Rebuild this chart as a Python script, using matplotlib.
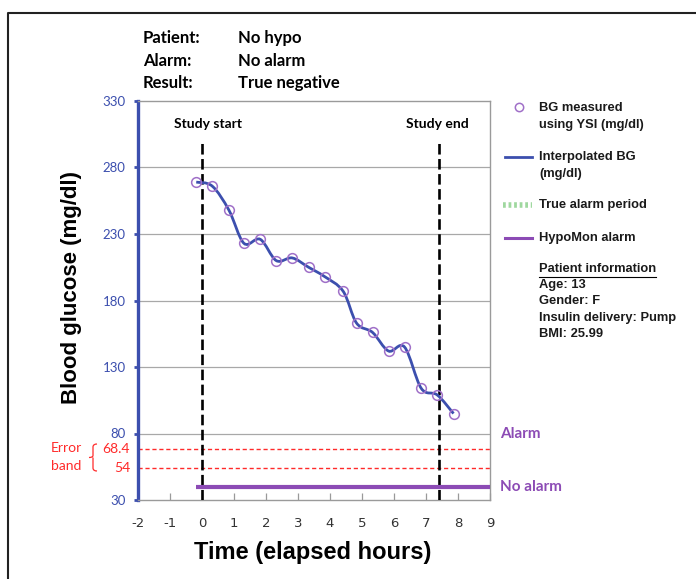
import matplotlib
matplotlib.use("Agg")
import matplotlib.pyplot as plt
from matplotlib.lines import Line2D
from matplotlib.path import Path
from matplotlib.patches import PathPatch

# measured BG (YSI) - hours from study start, mg/dl
hours = [-0.18, 0.32, 0.84, 1.31, 1.82, 2.32, 2.82, 3.33, 3.83, 4.41,
         4.83, 5.33, 5.83, 6.33, 6.85, 7.35, 7.86]
bg = [269, 266, 248, 223, 226, 210, 212, 205, 198, 187,
      163, 156, 142, 145, 114, 109, 95]

study_start = 0.0
study_end = 7.4
alarm_level = 40          # HypoMon alarm line ("No alarm")
alarm_start = -0.18
error_band = [68.4, 54]

yticks = [30, 80, 130, 180, 230, 280, 330]
xticks = list(range(-2, 10))

W, H = 696, 579
def fx(x):
    return x / W
def fy(y):
    return 1 - y / H

blue = "#3c4fae"
purple = "#8c4bb5"
red = "#ff2a2a"
fnt = "Lato"
sans = "Liberation Sans"

fig = plt.figure(figsize=(6.96, 5.79), dpi=100)
ax = fig.add_axes([fx(138), fy(500), fx(490) - fx(138), fy(101) - fy(500)])

ax.set_xlim(-2, 9)
ax.set_ylim(30, 330)

# grid + spines
for y in yticks[1:-1]:
    ax.axhline(y, color="#a8a8a8", lw=0.9, zorder=1)
for s in ["top", "right", "bottom"]:
    ax.spines[s].set_color("#9a9a9a")
    ax.spines[s].set_linewidth(1.0)
ax.spines["left"].set_color(blue)
ax.spines["left"].set_linewidth(2.4)

ax.set_yticks(yticks)
ax.set_yticklabels([str(v) for v in yticks], color=blue, fontsize=9.5, family=fnt)
ax.tick_params(axis="y", direction="out", length=3, width=2, color=blue, pad=6)
ax.set_xticks(xticks)
ax.set_xticklabels([str(v) for v in xticks], color="#333333", fontsize=9.5,
                   family=["Liberation Sans Narrow", "DejaVu Sans"])
ax.tick_params(axis="x", direction="in", length=5, width=0.9, color="#9a9a9a", pad=12)

# error band
for y in error_band:
    ax.axhline(y, color=red, lw=1.0, ls=(0, (3, 2)), zorder=2)
    ax.text(-2.25, y, str(y), color=red, fontsize=10, family=fnt,
            ha="right", va="center")

# study start / end
for x in [study_start, study_end]:
    ax.plot([x, x], [30, 300], color="black", lw=1.9, ls=(0, (4, 1.7)), zorder=3)
ax.text(0.19, 312.7, "Study start", fontsize=10, family=fnt, fontweight="bold",
        ha="center", va="center")
ax.text(7.34, 312.7, "Study end", fontsize=10, family=fnt, fontweight="bold",
        ha="center", va="center")

# HypoMon alarm line
ax.plot([alarm_start, 9], [alarm_level, alarm_level], color=purple, lw=3,
        solid_capstyle="butt", zorder=4, clip_on=False)

# smoothed curve (Catmull-Rom as cubic Bezier)
pts = list(zip(hours, bg))
verts = [pts[0]]
codes = [Path.MOVETO]
n = len(pts)
for i in range(n - 1):
    p0 = pts[max(i - 1, 0)]
    p1 = pts[i]
    p2 = pts[i + 1]
    p3 = pts[min(i + 2, n - 1)]
    c1 = (p1[0] + (p2[0] - p0[0]) / 6, p1[1] + (p2[1] - p0[1]) / 6)
    c2 = (p2[0] - (p3[0] - p1[0]) / 6, p2[1] - (p3[1] - p1[1]) / 6)
    verts += [c1, c2, p2]
    codes += [Path.CURVE4] * 3
ax.add_patch(PathPatch(Path(verts, codes), facecolor="none", edgecolor=blue,
                       lw=2, zorder=5))
ax.plot(hours, bg, ls="none", marker="o", ms=7, mfc="none", mec="#a070c8",
        mew=1.1, zorder=6)

# right side labels
ax.text(9.3, 80, "Alarm", color=purple, fontsize=11, family=fnt,
        fontweight="bold", va="center", clip_on=False)
ax.text(9.3, alarm_level, "No alarm", color=purple, fontsize=11, family=fnt,
        fontweight="bold", va="center", clip_on=False)

# axis titles
fig.text(fx(313), fy(552), "Time (elapsed hours)", fontsize=17, fontweight="bold",
         family=sans, ha="center", va="center")
fig.text(fx(71), fy(287), "Blood glucose (mg/dl)", fontsize=16, fontweight="bold",
         family=sans, ha="center", va="center", rotation=90)

# error band label and brace
fig.text(fx(66), fy(448), "Error", color=red, fontsize=10, family=fnt, ha="center", va="center")
fig.text(fx(66), fy(466), "band", color=red, fontsize=10, family=fnt, ha="center", va="center")
bx, by0, by1, bm = 97, 444, 471, 457.5
brace = Path([(fx(bx), fy(by0)), (fx(bx - 4), fy(by0)), (fx(bx - 4), fy(by0 + 3)),
              (fx(bx - 4), fy(bm - 2)), (fx(bx - 4), fy(bm)), (fx(bx - 8), fy(bm)),
              (fx(bx - 4), fy(bm)), (fx(bx - 4), fy(bm + 2)),
              (fx(bx - 4), fy(by1 - 3)), (fx(bx - 4), fy(by1)), (fx(bx), fy(by1))],
             [Path.MOVETO, Path.CURVE3, Path.CURVE3, Path.LINETO, Path.CURVE3, Path.CURVE3,
              Path.MOVETO, Path.CURVE3, Path.LINETO, Path.CURVE3, Path.CURVE3])
fig.add_artist(PathPatch(brace, facecolor="none", edgecolor=red, lw=0.9,
                         transform=fig.transFigure))

# header
header = [("Patient:", "No hypo"), ("Alarm:", "No alarm"), ("Result:", "True negative")]
for i, (k, v) in enumerate(header):
    y = 38 + i * 22.5
    fig.text(fx(143), fy(y), k, fontsize=12, family=fnt, fontweight="bold", va="center")
    fig.text(fx(238), fy(y), v, fontsize=12, family=fnt, fontweight="bold", va="center")

# legend
fig.add_artist(Line2D([fx(519)], [fy(107)], ls="none", marker="o", ms=6, mfc="none",
                      mec="#a070c8", mew=1.1, transform=fig.transFigure))
fig.add_artist(Line2D([fx(505), fx(532)], [fy(157), fy(157)], color=blue, lw=2,
                      transform=fig.transFigure))
fig.add_artist(Line2D([fx(503), fx(532)], [fy(205), fy(205)], color="#9fd89f", lw=4,
                      ls=(0, (0.5, 0.5)), transform=fig.transFigure))
fig.add_artist(Line2D([fx(505), fx(532)], [fy(238), fy(238)], color=purple, lw=2.2,
                      transform=fig.transFigure))
legend_lines = [(108, "BG measured"), (125, "using YSI (mg/dl)"),
                (157, "Interpolated BG"), (174, "(mg/dl)"),
                (205, "True alarm period"), (238, "HypoMon alarm"),
                (269, "Patient information"), (285, "Age: 13"), (301, "Gender: F"),
                (318, "Insulin delivery: Pump"), (334, "BMI: 25.99")]
for y, t in legend_lines:
    fig.text(fx(539), fy(y), t, fontsize=9.3, family=sans, fontweight="bold",
             color="#1a1a1a", va="center")
fig.add_artist(Line2D([fx(539), fx(656)], [fy(277.5), fy(277.5)], color="black", lw=0.8,
                      transform=fig.transFigure))

# outer frame (top and left edges)
fig.add_artist(Line2D([fx(8), fx(8), 1], [0, fy(12.5), fy(12.5)], color="#222222",
                      lw=1.5, transform=fig.transFigure))

fig.savefig("out.png", dpi=100)
